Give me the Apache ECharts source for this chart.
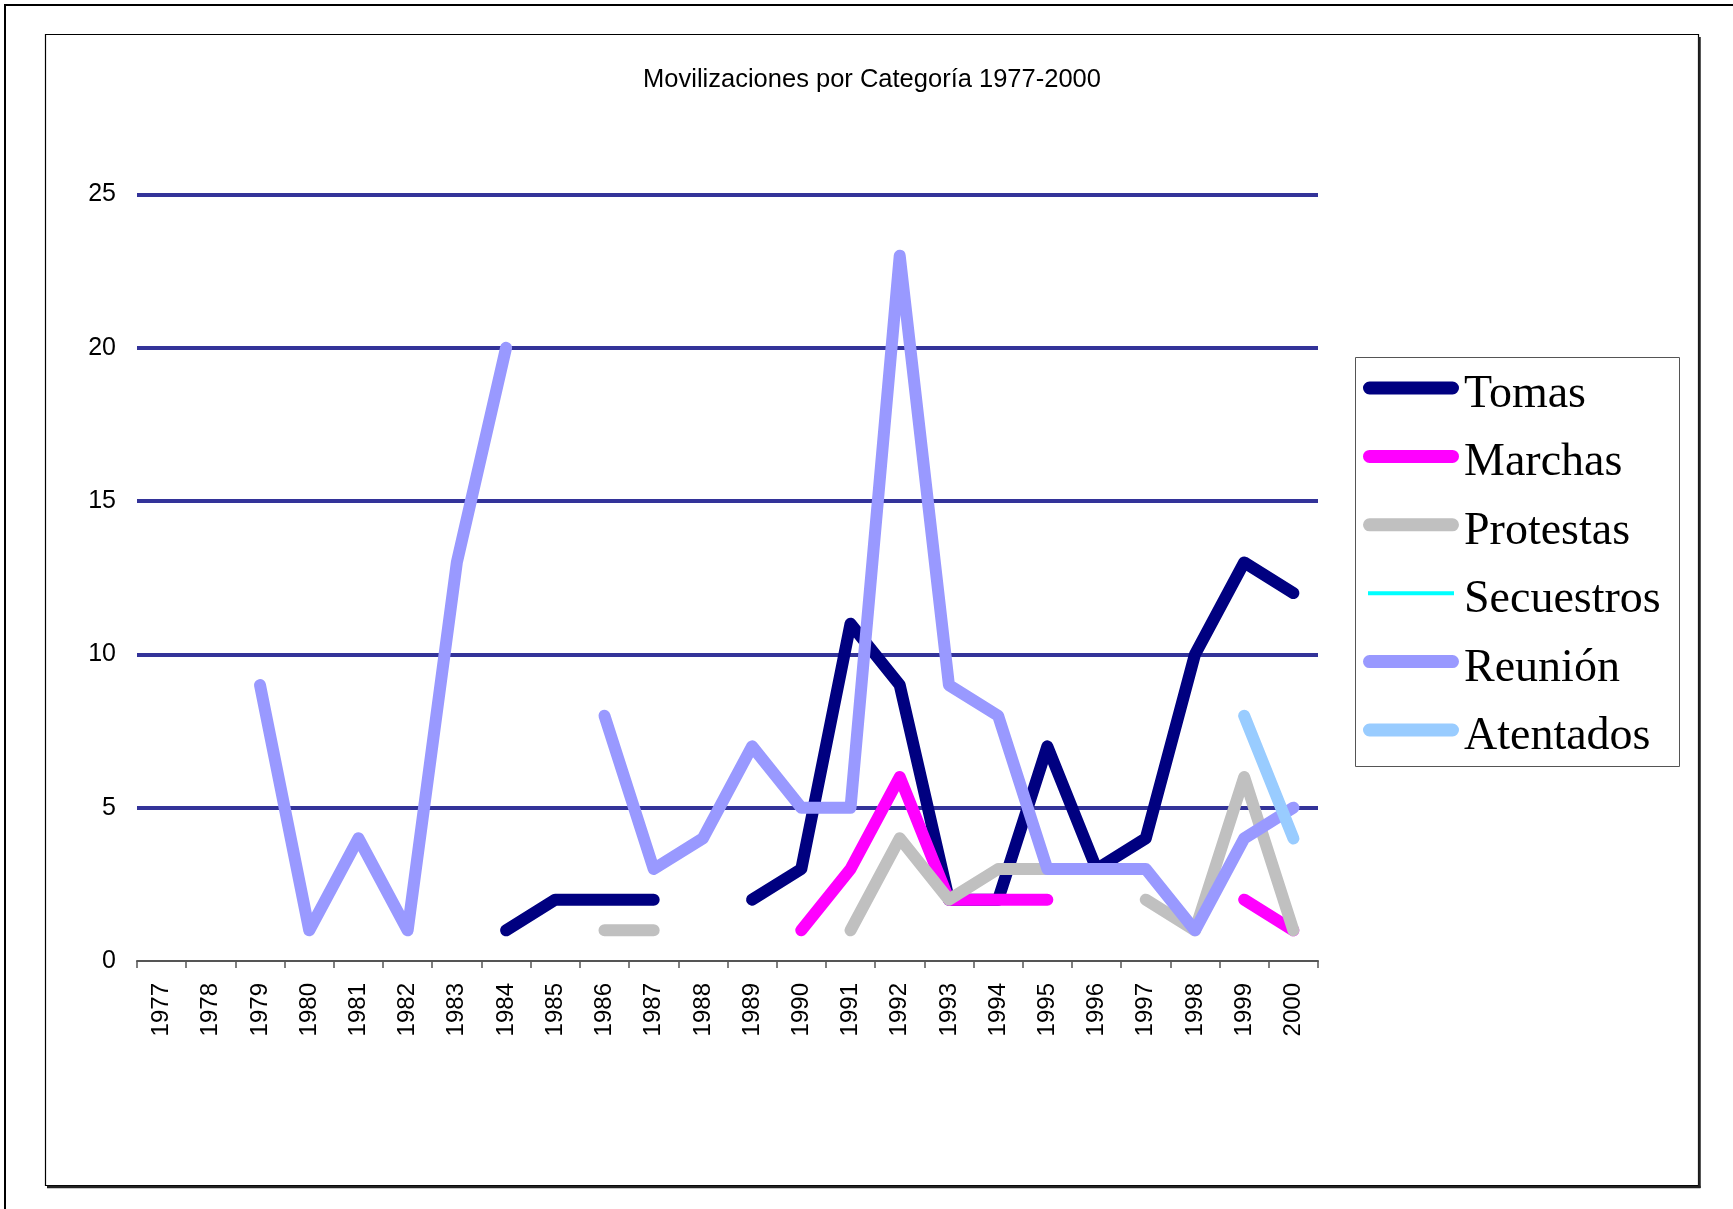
<!DOCTYPE html>
<html>
<head>
<meta charset="utf-8">
<script src="https://cdn.jsdelivr.net/npm/echarts@6/dist/echarts.min.js"></script>
<style>
  html, body { margin: 0; padding: 0; background: #ffffff; }
  #chart { width: 1733px; height: 1209px; }
</style>
</head>
<body>
<div id="chart"></div>
<script>
var years = ['1977','1978','1979','1980','1981','1982','1983','1984','1985','1986','1987','1988',
             '1989','1990','1991','1992','1993','1994','1995','1996','1997','1998','1999','2000'];
var tomas      = [null,null,null,null,null,null,null,1,2,2,2,null,2,3,11,9,2,2,7,3,4,10,13,12];
var marchas    = [null,null,null,null,null,null,null,null,null,null,null,null,null,1,3,6,2,2,2,null,null,null,2,1];
var protestas  = [null,null,null,null,null,null,null,null,null,1,1,null,null,null,1,4,2,3,3,null,2,1,6,1];
var secuestros = [null,null,null,null,null,null,null,null,null,null,null,null,null,null,null,null,null,null,null,null,null,null,null,null];
var reunion    = [null,null,9,1,4,1,13,20,null,8,3,4,7,5,5,23,9,8,3,3,3,1,4,5];
var atentados  = [null,null,null,null,null,null,null,null,null,null,null,null,null,null,null,null,null,null,null,null,null,null,8,4];
var yTicks = [0, 5, 10, 15, 20, 25];

var seriesNames  = ['Tomas','Marchas','Protestas','Secuestros','Reunión','Atentados'];
var seriesData   = [tomas, marchas, protestas, secuestros, reunion, atentados];
var seriesColors = ['#000080','#FF00FF','#C0C0C0','#00FFFF','#9999FF','#99CCFF'];
var seriesWidths = [12, 12, 12, 4, 12, 12];

var pill = 'path://M6.5,0H89.5A6.5,6.5,0,0,1,89.5,13H6.5A6.5,6.5,0,0,1,6.5,0Z M0,0L96,0L96,0.01Z M0,27L96,27L96,26.99Z';
var thin = 'path://M0,0L96,0L96,0.01Z M5,4.5H91V8.5H5Z M0,27L96,27L96,26.99Z';

var chart = echarts.init(document.getElementById('chart'), null, { renderer: 'canvas' });

var series = seriesNames.map(function (name, i) {
  return {
    name: name,
    type: 'line',
    data: seriesData[i],
    symbol: 'none',
    showSymbol: false,
    connectNulls: false,
    animation: false,
    color: seriesColors[i],
    itemStyle: { color: seriesColors[i] },
    lineStyle: { color: seriesColors[i], width: seriesWidths[i], cap: 'round', join: 'round' },
    emphasis: { disabled: true }
  };
});

var option = {
  animation: false,
  backgroundColor: '#ffffff',
  title: {
    text: 'Movilizaciones por Categoría 1977-2000',
    left: 872,
    textAlign: 'center',
    top: 66,
    padding: 0,
    textStyle: { fontFamily: 'Liberation Sans', fontSize: 25.5, fontWeight: 'normal', color: '#000000', lineHeight: 28 }
  },
  graphic: [
    { type: 'rect', shape: { x: 5, y: 5, width: 1800, height: 1300 }, style: { fill: 'none', stroke: '#000000', lineWidth: 2 }, silent: true, z: -10 },
    { type: 'rect', shape: { x: 45.5, y: 34.5, width: 1653, height: 1151 }, style: { fill: 'none', stroke: '#000000', lineWidth: 1.2 }, silent: true, z: -10 },
    { type: 'line', shape: { x1: 47, y1: 1187, x2: 1700.5, y2: 1187 }, style: { stroke: '#222222', lineWidth: 2.5 }, silent: true, z: -10 },
    { type: 'line', shape: { x1: 1699.5, y1: 37, x2: 1699.5, y2: 1188 }, style: { stroke: '#222222', lineWidth: 2.5 }, silent: true, z: -10 },
    { type: 'rect', shape: { x: 1355.5, y: 357.5, width: 324, height: 409 }, style: { fill: '#ffffff', stroke: '#555555', lineWidth: 1 }, silent: true, z: -5 }
  ],
  legend: {
    orient: 'vertical',
    left: 1355,
    top: 357,
    padding: [15, 10, 5, 8],
    itemWidth: 96,
    itemHeight: 27,
    itemGap: 22.4,
    symbolKeepAspect: false,
    selectedMode: false,
    itemStyle: { borderWidth: 0 },
    textStyle: { fontFamily: 'Liberation Serif', fontSize: 46, color: '#000000', lineHeight: 44 },
    data: seriesNames.map(function (n, i) { return { name: n, icon: (i === 3 ? thin : pill) }; })
  },
  grid: { left: 137, right: 415, top: 194.5, bottom: 248, containLabel: false },
  xAxis: {
    type: 'category',
    data: years,
    boundaryGap: true,
    axisLine: { show: true, lineStyle: { color: '#555555', width: 2 } },
    axisTick: { show: true, length: 7, interval: 0, lineStyle: { color: '#555555', width: 1.5 } },
    axisLabel: { interval: 0, rotate: 90, margin: 22, fontFamily: 'Liberation Sans', fontSize: 24, color: '#000000' },
    splitLine: { show: false }
  },
  yAxis: {
    type: 'value',
    min: yTicks[0],
    max: yTicks[yTicks.length - 1],
    interval: 5,
    axisLine: { show: false },
    axisTick: { show: false },
    axisLabel: { margin: 21, fontFamily: 'Liberation Sans', fontSize: 25, color: '#000000' },
    splitLine: { show: true, lineStyle: { color: ['rgba(0,0,0,0)', '#333399', '#333399', '#333399', '#333399', '#333399'], width: 4 } }
  },
  series: series
};
chart.setOption(option);
</script>
</body>
</html>
